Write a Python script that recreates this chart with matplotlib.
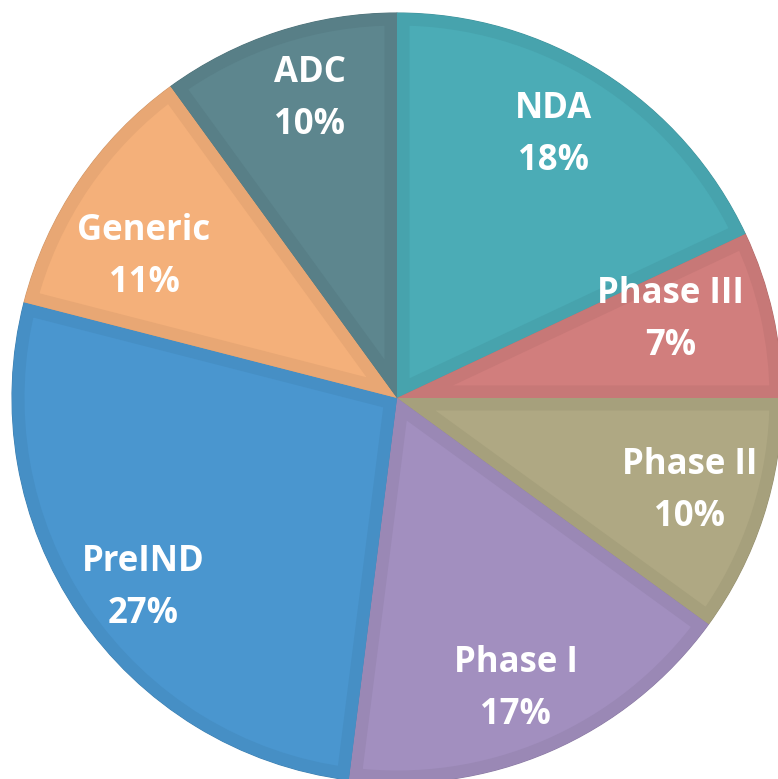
import matplotlib
matplotlib.use('Agg')
import numpy as np
import matplotlib.pyplot as plt
import matplotlib.colors as mcolors
from matplotlib.patches import Wedge

# data
labels = ['NDA', 'Phase III', 'Phase II', 'Phase I', 'PreIND', 'Generic', 'ADC']
shares = [18, 7, 10, 17, 27, 11, 10]
colors = ['#4BACB6', '#D17E7D', '#AFA883', '#A28FBF', '#4A96CF', '#F4B07A', '#5D868E']
# label placement: angle shift from wedge middle (deg), distance from centre
label_shift = [1.9, 3.7, 0.7, -1.0, 2.2, 4.7, -1.9]
label_dist = [0.80, 0.74, 0.795, 0.81, 0.82, 0.755, 0.815]

W, H = 778, 779
fig = plt.figure(figsize=(W / 100, H / 100), dpi=100)
cx, cy, R = 397, 398, 385
ax = fig.add_axes([(cx - R) / W, (H - cy - R) / H, 2 * R / W, 2 * R / H])

def darker(c, f=0.95):
    r, g, b = mcolors.to_rgb(c)
    return (r * f, g * f, b * f)

wedges, _ = ax.pie(shares, colors=colors, startangle=90, counterclock=False,
                   radius=1, wedgeprops=dict(linewidth=0))

# inner darker bevel band, clipped to each wedge
for w, c in zip(wedges, colors):
    band = Wedge(w.center, w.r, w.theta1, w.theta2, facecolor='none',
                 edgecolor=darker(c), linewidth=18)
    ax.add_patch(band)
    band.set_clip_path(w)
    w.set_edgecolor(darker(c, 0.85))
    w.set_linewidth(0.8)

for w, lab, s, sh, d in zip(wedges, labels, shares, label_shift, label_dist):
    ang = np.deg2rad((w.theta1 + w.theta2) / 2 + sh)
    ax.text(d * np.cos(ang), d * np.sin(ang) - 0.006, f'{lab}\n{s}%',
            ha='center', va='center', color='white', fontsize=25,
            fontweight='bold', family='Open Sans', linespacing=1.6)

ax.set_xlim(-1, 1)
ax.set_ylim(-1, 1)
ax.axis('off')

plt.savefig('out.png', dpi=100)
